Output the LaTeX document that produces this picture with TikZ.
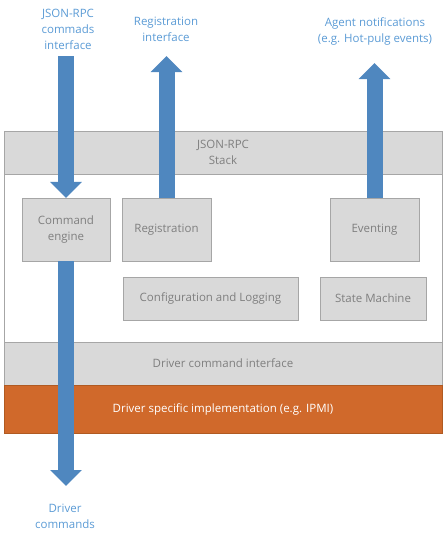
\documentclass[tikz,border=0pt]{standalone}
\usepackage{fontspec}
\setmainfont{Open Sans}
\usetikzlibrary{positioning, arrows.meta}
\definecolor{uFill}{HTML}{D9D9D9}
\definecolor{uLine}{HTML}{A6A6A6}
\definecolor{uText}{HTML}{7F7F7F}
\definecolor{uBlue}{HTML}{4F87BF}
\definecolor{uLabel}{HTML}{5B9BD5}
\definecolor{uOrange}{HTML}{D0692B}
\definecolor{uOrangeLine}{HTML}{B05A22}
\tikzset{
    Box/.style = {
        draw=uLine, fill=uFill, text=uText, align=center,
        inner sep=0pt, font=\fontsize{11.5}{16}\selectfont
    },
    Band/.style = {Box, minimum width=438pt},
    Note/.style = {text=uLabel, align=center, font=\fontsize{11.5}{16}\selectfont},
    BlockArrow/.style = {
        line width=16pt, draw=uBlue,
        -{Triangle[length=16pt, width=31pt]}
    }
}

\begin{document}
\begin{tikzpicture}[x=1pt, y=-1pt]
    \useasboundingbox (0,0) rectangle (447,539);
    \node[draw=uLine, fill=white, minimum width=438pt, minimum height=302pt, inner sep=0pt] (frame) at (223,282) {};
    \node[Band, minimum height=43pt] (stack) at (223,152.5) {JSON-RPC\\Stack};
    \node[Band, minimum height=43pt] (drvcmd) at (223,363.5) {Driver command interface};
    \node[Band, minimum height=48pt, fill=uOrange, draw=uOrangeLine, text=white] (drvimpl) at (223,409) {Driver specific implementation (e.g. IPMI)};
    \node[Box, minimum width=88pt, minimum height=63pt] (engine) at (66,229.5) {Command\\engine};
    \node[Box, minimum width=89pt, minimum height=63pt] (reg) at (166.5,229.5) {Registration};
    \node[Box, minimum width=89pt, minimum height=63pt] (event) at (374.5,229.5) {Eventing};
    \node[Box, minimum width=175pt, minimum height=43pt] (config) at (210.5,298.5) {Configuration and Logging};
    \node[Box, minimum width=106pt, minimum height=43pt] (state) at (373,298.5) {State Machine};
    \node[Note] (cmdNote) at (68,29.5) {JSON-RPC\\commads\\interface};
    \node[Note] (regNote) at (166,29.5) {Registration\\interface};
    \node[Note] (evNote) at (375,31.5) {Agent notifications\\(e.g. Hot-pulg events)};
    \node[Note] (drvNote) at (65,516.5) {Driver\\commands};
    \coordinate (cmdTop) at (66,56);
    \coordinate (drvEnd) at (66,486);
    \coordinate (regTip) at (166.5,56);
    \coordinate (evTip) at (374.5,63);
    \draw [BlockArrow] (cmdTop) to (engine.north);
    \draw [BlockArrow] (engine.south) to (drvEnd);
    \draw [BlockArrow] (reg.north) to (regTip);
    \draw [BlockArrow] (event.north) to (evTip);
\end{tikzpicture}
\end{document}
